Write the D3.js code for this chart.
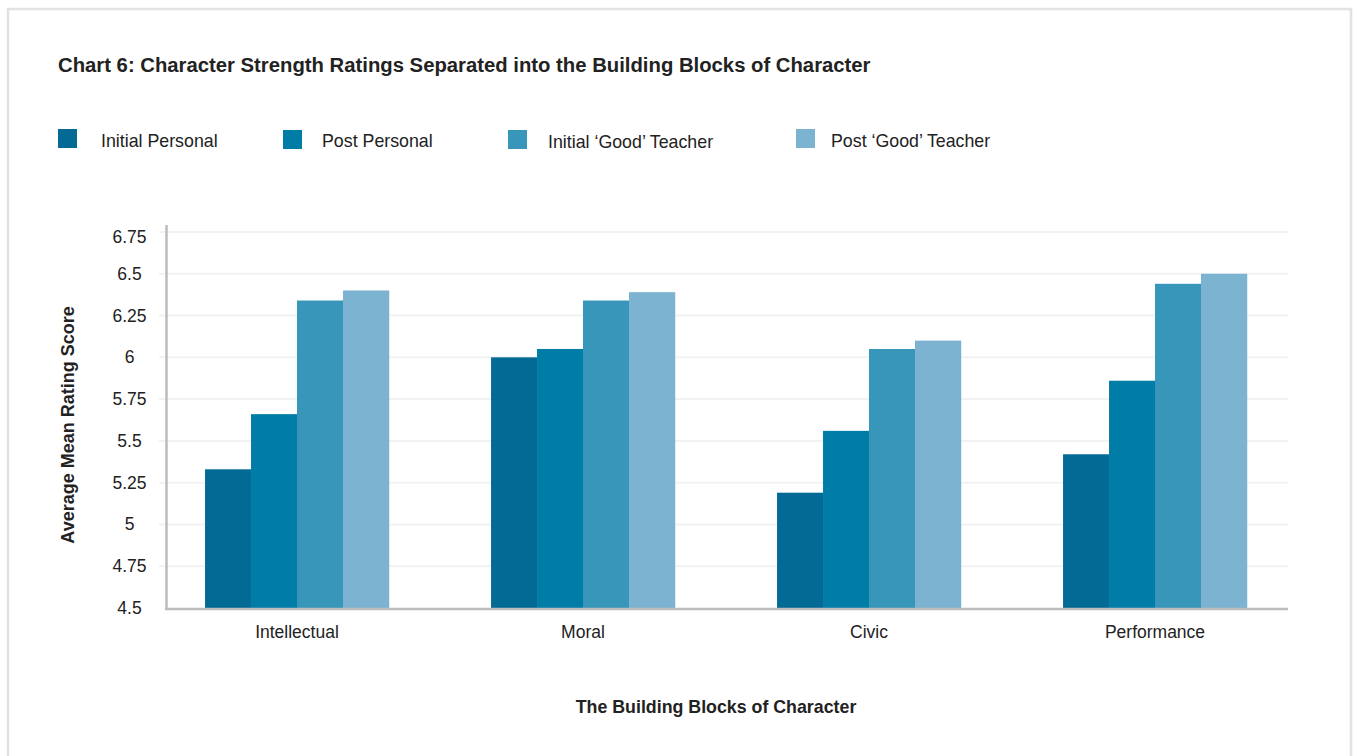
<!DOCTYPE html>
<html><head><meta charset="utf-8">
<script src="https://cdn.jsdelivr.net/npm/d3@7/dist/d3.min.js"></script>
<style>html,body{margin:0;padding:0;background:#fff;}svg{display:block;font-family:"Liberation Sans",Arial,sans-serif;}</style>
</head><body>
<script>
const categories = ["Intellectual", "Moral", "Civic", "Performance"];
const seriesNames = ["Initial Personal", "Post Personal", "Initial \u2018Good\u2019 Teacher", "Post \u2018Good\u2019 Teacher"];
const initialPersonal = [5.33, 6.00, 5.19, 5.42];
const postPersonal = [5.66, 6.05, 5.56, 5.86];
const initialGoodTeacher = [6.34, 6.34, 6.05, 6.44];
const postGoodTeacher = [6.40, 6.39, 6.10, 6.50];
const yTicks = [4.5, 4.75, 5, 5.25, 5.5, 5.75, 6, 6.25, 6.5, 6.75];
const colors = ["#036a95", "#007da7", "#3896bb", "#7cb3d1"];

const series = [initialPersonal, postPersonal, initialGoodTeacher, postGoodTeacher];
const W = 1358, H = 756;
const svg = d3.select("body").append("svg").attr("width", W).attr("height", H);

// page frame
svg.append("rect").attr("x", 8).attr("y", 9).attr("width", 1343).attr("height", 770)
  .attr("fill", "none").attr("stroke", "#e2e2e2").attr("stroke-width", 2.5);

// title
svg.append("text").attr("x", 58).attr("y", 72).attr("font-size", 20.3).attr("font-weight", "bold")
  .attr("fill", "#222").text("Chart 6: Character Strength Ratings Separated into the Building Blocks of Character");

// legend
const legendX = [58, 283, 508, 796];
const legendTextX = [101, 322, 548, 831];
const lg = svg.append("g");
seriesNames.forEach((n, i) => {
  lg.append("rect").attr("x", legendX[i]).attr("y", 129 + (i === 1 || i === 2 ? 1 : 0)).attr("width", 19).attr("height", 19).attr("fill", colors[i]);
  lg.append("text").attr("x", legendTextX[i]).attr("y", 147 + (i === 2 ? 1 : 0)).attr("font-size", 17.8).attr("fill", "#222").text(n);
});

// scales
const y = d3.scaleLinear().domain([4.5, 6.75]).range([608, 232]);
const x0 = d3.scaleBand().domain(categories).range([154, 1298]).paddingInner(0.357).paddingOuter(0.1785);
const x1 = d3.scaleBand().domain(d3.range(series.length)).range([0, x0.bandwidth()]);

// gridlines
svg.append("g").selectAll("line").data(yTicks.slice(1)).join("line")
  .attr("x1", 159).attr("x2", 1288).attr("y1", d => y(d)).attr("y2", d => y(d))
  .attr("stroke", "#f2f2f2").attr("stroke-width", 2);

// bars
const gBars = svg.append("g");
categories.forEach((c, ci) => {
  series.forEach((s, si) => {
    gBars.append("rect")
      .attr("x", x0(c) + x1(si)).attr("width", x1.bandwidth() + 0.3)
      .attr("y", y(s[ci])).attr("height", y(4.5) - y(s[ci]))
      .attr("fill", colors[si]);
  });
});

// axes lines
svg.append("line").attr("x1", 166.5).attr("x2", 166.5).attr("y1", 225).attr("y2", 610)
  .attr("stroke", "#bcbcbc").attr("stroke-width", 2.5);
svg.append("line").attr("x1", 165).attr("x2", 1288).attr("y1", 609).attr("y2", 609)
  .attr("stroke", "#bcbcbc").attr("stroke-width", 2.5);

// y tick labels
svg.append("g").selectAll("text").data(yTicks).join("text")
  .attr("x", 129.5).attr("y", (d, i) => y(d) + 6 + (i === yTicks.length - 1 ? 5 : 0)).attr("text-anchor", "middle")
  .attr("font-size", 17.5).attr("fill", "#222").text(d => String(d));

// x tick labels
svg.append("g").selectAll("text").data(categories).join("text")
  .attr("x", d => x0(d) + x0.bandwidth() / 2).attr("y", 638).attr("text-anchor", "middle")
  .attr("font-size", 17.5).attr("fill", "#222").text(d => d);

// axis titles
svg.append("text").attr("transform", "translate(74,425) rotate(-90)").attr("text-anchor", "middle")
  .attr("font-size", 18).attr("font-weight", "bold").attr("fill", "#222").text("Average Mean Rating Score");
svg.append("text").attr("x", 716).attr("y", 713).attr("text-anchor", "middle")
  .attr("font-size", 17.8).attr("font-weight", "bold").attr("fill", "#222").text("The Building Blocks of Character");
</script>
</body></html>
